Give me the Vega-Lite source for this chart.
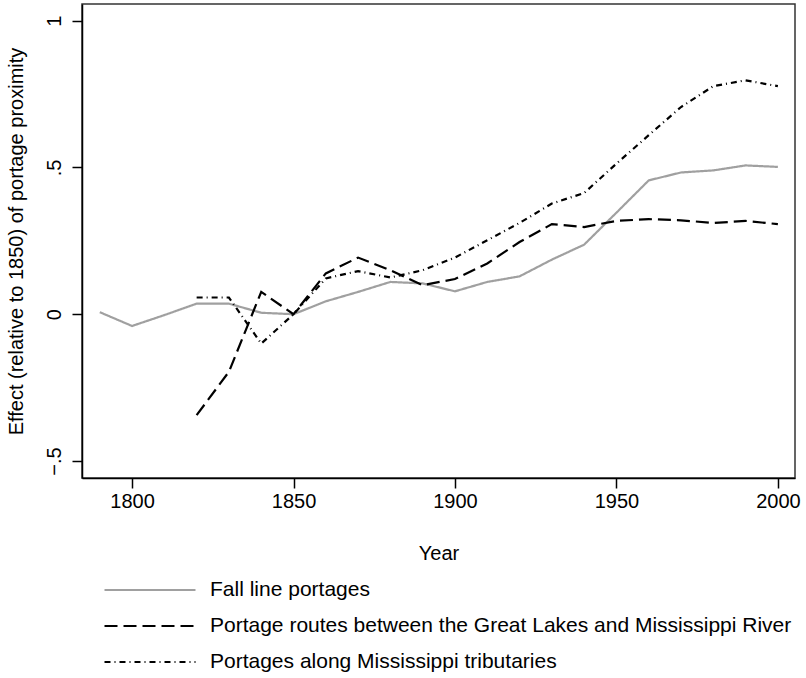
{
  "$schema": "https://vega.github.io/schema/vega-lite/v6.json",
  "autosize": "none",
  "width": 713,
  "height": 474,
  "padding": {"left": 82, "top": 4, "right": 11, "bottom": 200},
  "background": "white",
  "config": {
    "font": "Liberation Sans",
    "view": {"stroke": "#333", "strokeWidth": 1.5},
    "axis": {"grid": false, "domainColor": "#000", "domainWidth": 1.5, "tickColor": "#000", "tickWidth": 1.5, "tickSize": 10, "labelFont": "Liberation Sans", "titleFont": "Liberation Sans", "labelFontSize": 20, "titleFontSize": 20, "labelColor": "#000", "titleColor": "#000", "titleFontWeight": "normal"}
  },
  "data": {"values": [
    {"year": 1790, "effect": 0.007, "series": "Fall line portages"},
    {"year": 1800, "effect": -0.04, "series": "Fall line portages"},
    {"year": 1810, "effect": -0.003, "series": "Fall line portages"},
    {"year": 1820, "effect": 0.036, "series": "Fall line portages"},
    {"year": 1830, "effect": 0.036, "series": "Fall line portages"},
    {"year": 1840, "effect": 0.005, "series": "Fall line portages"},
    {"year": 1850, "effect": 0.0, "series": "Fall line portages"},
    {"year": 1860, "effect": 0.044, "series": "Fall line portages"},
    {"year": 1870, "effect": 0.076, "series": "Fall line portages"},
    {"year": 1880, "effect": 0.11, "series": "Fall line portages"},
    {"year": 1890, "effect": 0.105, "series": "Fall line portages"},
    {"year": 1900, "effect": 0.078, "series": "Fall line portages"},
    {"year": 1910, "effect": 0.11, "series": "Fall line portages"},
    {"year": 1920, "effect": 0.129, "series": "Fall line portages"},
    {"year": 1930, "effect": 0.186, "series": "Fall line portages"},
    {"year": 1940, "effect": 0.237, "series": "Fall line portages"},
    {"year": 1950, "effect": 0.346, "series": "Fall line portages"},
    {"year": 1960, "effect": 0.456, "series": "Fall line portages"},
    {"year": 1970, "effect": 0.483, "series": "Fall line portages"},
    {"year": 1980, "effect": 0.49, "series": "Fall line portages"},
    {"year": 1990, "effect": 0.507, "series": "Fall line portages"},
    {"year": 2000, "effect": 0.502, "series": "Fall line portages"},
    {"year": 1820, "effect": -0.344, "series": "Portage routes between the Great Lakes and Mississippi River"},
    {"year": 1830, "effect": -0.196, "series": "Portage routes between the Great Lakes and Mississippi River"},
    {"year": 1840, "effect": 0.076, "series": "Portage routes between the Great Lakes and Mississippi River"},
    {"year": 1850, "effect": 0.0, "series": "Portage routes between the Great Lakes and Mississippi River"},
    {"year": 1860, "effect": 0.139, "series": "Portage routes between the Great Lakes and Mississippi River"},
    {"year": 1870, "effect": 0.193, "series": "Portage routes between the Great Lakes and Mississippi River"},
    {"year": 1880, "effect": 0.15, "series": "Portage routes between the Great Lakes and Mississippi River"},
    {"year": 1890, "effect": 0.099, "series": "Portage routes between the Great Lakes and Mississippi River"},
    {"year": 1900, "effect": 0.12, "series": "Portage routes between the Great Lakes and Mississippi River"},
    {"year": 1910, "effect": 0.173, "series": "Portage routes between the Great Lakes and Mississippi River"},
    {"year": 1920, "effect": 0.246, "series": "Portage routes between the Great Lakes and Mississippi River"},
    {"year": 1930, "effect": 0.307, "series": "Portage routes between the Great Lakes and Mississippi River"},
    {"year": 1940, "effect": 0.297, "series": "Portage routes between the Great Lakes and Mississippi River"},
    {"year": 1950, "effect": 0.318, "series": "Portage routes between the Great Lakes and Mississippi River"},
    {"year": 1960, "effect": 0.324, "series": "Portage routes between the Great Lakes and Mississippi River"},
    {"year": 1970, "effect": 0.32, "series": "Portage routes between the Great Lakes and Mississippi River"},
    {"year": 1980, "effect": 0.311, "series": "Portage routes between the Great Lakes and Mississippi River"},
    {"year": 1990, "effect": 0.318, "series": "Portage routes between the Great Lakes and Mississippi River"},
    {"year": 2000, "effect": 0.307, "series": "Portage routes between the Great Lakes and Mississippi River"},
    {"year": 1820, "effect": 0.057, "series": "Portages along Mississippi tributaries"},
    {"year": 1830, "effect": 0.057, "series": "Portages along Mississippi tributaries"},
    {"year": 1840, "effect": -0.1, "series": "Portages along Mississippi tributaries"},
    {"year": 1850, "effect": 0.0, "series": "Portages along Mississippi tributaries"},
    {"year": 1860, "effect": 0.122, "series": "Portages along Mississippi tributaries"},
    {"year": 1870, "effect": 0.147, "series": "Portages along Mississippi tributaries"},
    {"year": 1880, "effect": 0.125, "series": "Portages along Mississippi tributaries"},
    {"year": 1890, "effect": 0.15, "series": "Portages along Mississippi tributaries"},
    {"year": 1900, "effect": 0.193, "series": "Portages along Mississippi tributaries"},
    {"year": 1910, "effect": 0.252, "series": "Portages along Mississippi tributaries"},
    {"year": 1920, "effect": 0.311, "series": "Portages along Mississippi tributaries"},
    {"year": 1930, "effect": 0.377, "series": "Portages along Mississippi tributaries"},
    {"year": 1940, "effect": 0.413, "series": "Portages along Mississippi tributaries"},
    {"year": 1950, "effect": 0.513, "series": "Portages along Mississippi tributaries"},
    {"year": 1960, "effect": 0.61, "series": "Portages along Mississippi tributaries"},
    {"year": 1970, "effect": 0.706, "series": "Portages along Mississippi tributaries"},
    {"year": 1980, "effect": 0.777, "series": "Portages along Mississippi tributaries"},
    {"year": 1990, "effect": 0.797, "series": "Portages along Mississippi tributaries"},
    {"year": 2000, "effect": 0.777, "series": "Portages along Mississippi tributaries"}
  ]},
  "mark": {"type": "line", "strokeWidth": 2.2},
  "encoding": {
    "x": {
      "field": "year", "type": "quantitative",
      "scale": {"domain": [1784.5, 2005.3], "nice": false, "zero": false},
      "axis": {"values": [1800, 1850, 1900, 1950, 2000], "format": "d", "title": "Year", "labelPadding": 3, "titlePadding": 32}
    },
    "y": {
      "field": "effect", "type": "quantitative",
      "scale": {"domain": [-0.558, 1.057], "nice": false, "zero": false},
      "axis": {
        "values": [-0.5, 0, 0.5, 1],
        "labelExpr": "datum.value == 1 ? '1' : datum.value == 0.5 ? '.5' : datum.value == 0 ? '0' : '\u2212.5'",
        "labelAngle": 270, "labelAlign": "center", "labelBaseline": "bottom", "labelPadding": 8,
        "title": "Effect (relative to 1850) of portage proximity", "titlePadding": 18
      }
    },
    "color": {
      "field": "series", "type": "nominal",
      "scale": {
        "domain": ["Fall line portages", "Portage routes between the Great Lakes and Mississippi River", "Portages along Mississippi tributaries"],
        "range": ["#a0a0a0", "#000000", "#000000"]
      },
      "legend": {
        "title": null, "orient": "none", "legendX": 21, "legendY": 568,
        "symbolType": "stroke", "symbolSize": 8281, "symbolStrokeWidth": 2.2,
        "clipHeight": 36, "rowPadding": 0,
        "labelFont": "Liberation Sans", "labelFontSize": 21, "labelColor": "#000", "labelOffset": 13, "labelLimit": 700
      }
    },
    "strokeDash": {
      "field": "series", "type": "nominal",
      "scale": {
        "domain": ["Fall line portages", "Portage routes between the Great Lakes and Mississippi River", "Portages along Mississippi tributaries"],
        "range": [[1, 0], [13, 6], [6, 4, 1, 4]]
      }
    }
  }
}
